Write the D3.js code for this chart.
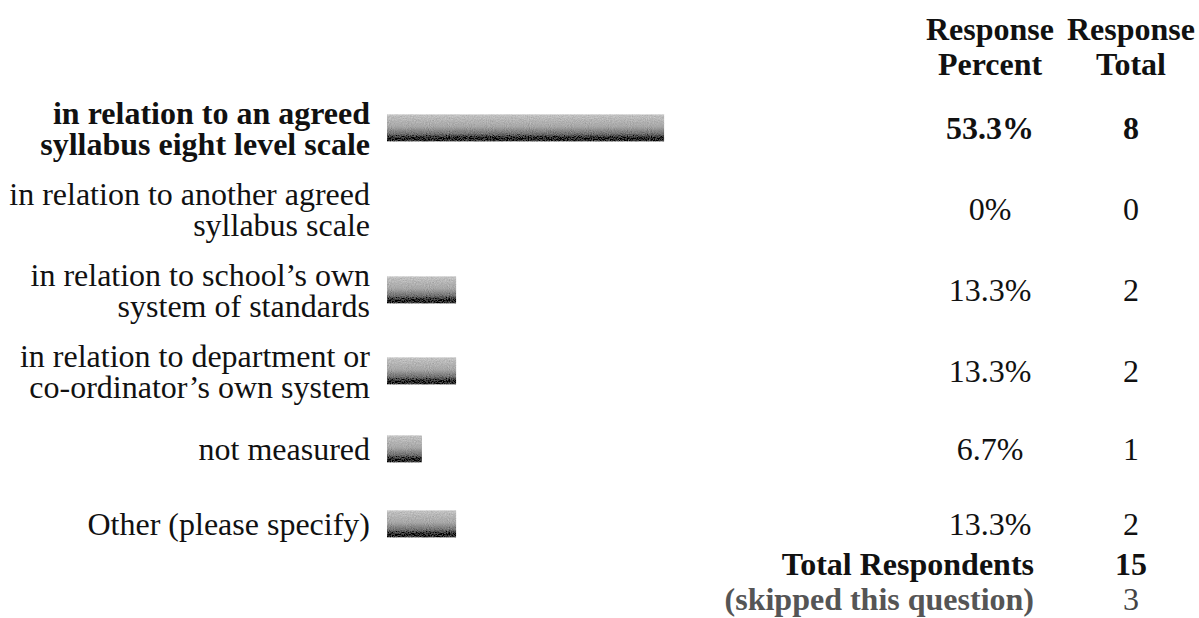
<!DOCTYPE html>
<html>
<head>
<meta charset="utf-8">
<script src="https://cdn.jsdelivr.net/npm/d3@7"></script>
<style>
  html, body { margin: 0; padding: 0; background: #fff; }
  svg { display: block; font-family: "Liberation Serif", "Times New Roman", serif; }
</style>
</head>
<body>
<svg id="chart" width="1199" height="618"></svg>
<script>
// Answer options (line breaks as shown in the label column)
const categories = [
  "in relation to an agreed\nsyllabus eight level scale",
  "in relation to another agreed\nsyllabus scale",
  "in relation to school\u2019s own\nsystem of standards",
  "in relation to department or\nco-ordinator\u2019s own system",
  "not measured",
  "Other (please specify)"
];
const responsePercent = [53.3, 0, 13.3, 13.3, 6.7, 13.3];
const responseTotal = [8, 0, 2, 2, 1, 2];
const highlighted = [true, false, false, false, false, false];
const headerPercent = ["Response", "Percent"];
const headerTotal = ["Response", "Total"];
const summaryLabels = ["Total Respondents", "(skipped this question)"];
const summaryValues = [15, 3];

const svg = d3.select("#chart");
const fontSize = 32;
const lineGap = 31;

const labelRight = 370;
const barLeft = 387;
const pctCenter = 990;
const totCenter = 1131;

// Row layout: each table row grows a little with its number of label lines
const rowData = categories.map((c, i) => ({
  lines: c.split("\n"), pct: responsePercent[i], total: responseTotal[i], bold: highlighted[i], i
}));
const rowHeight = d => 69 + 6 * d.lines.length;
let acc = 128 - rowHeight(rowData[0]) / 2;
rowData.forEach(d => { d.cy = acc + rowHeight(d) / 2; acc += rowHeight(d); });

// Scales
const x = d3.scaleLinear().domain([0, 100]).range([0, 520]);
const ySummary = d3.scalePoint().domain(d3.range(summaryLabels.length)).range([566, 601]);
const barH = 27;

// Bar shading: light grey top fading to near-black at the base, with grain
const defs = svg.append("defs");
const grad = defs.append("linearGradient")
  .attr("id", "barGrad").attr("x1", 0).attr("y1", 0).attr("x2", 0).attr("y2", 1);
[[0, "#c2c2c2"], [0.45, "#a6a6a6"], [0.72, "#6e6e6e"], [0.88, "#1e1e1e"], [1, "#3c3c3c"]]
  .forEach(([o, c]) => grad.append("stop").attr("offset", o).attr("stop-color", c));

const grain = defs.append("filter").attr("id", "grain")
  .attr("x", 0).attr("y", 0).attr("width", 1).attr("height", 1);
grain.append("feTurbulence").attr("type", "fractalNoise")
  .attr("baseFrequency", 0.95).attr("numOctaves", 1).attr("seed", 3).attr("result", "noise");
grain.append("feColorMatrix").attr("in", "noise").attr("type", "matrix")
  .attr("values", "0.33 0.33 0.33 0 0  0.33 0.33 0.33 0 0  0.33 0.33 0.33 0 0  0 0 0 0 1")
  .attr("result", "grey");
grain.append("feComposite").attr("in", "grey").attr("in2", "SourceGraphic")
  .attr("operator", "arithmetic").attr("k1", 0).attr("k2", 0.55).attr("k3", 1).attr("k4", -0.27)
  .attr("result", "mix");
grain.append("feComposite").attr("in", "mix").attr("in2", "SourceGraphic").attr("operator", "in");

// Column headers
const header = svg.append("g").attr("font-weight", "bold").attr("font-size", fontSize)
  .attr("text-anchor", "middle").attr("fill", "#111");
headerPercent.forEach((t, i) => header.append("text").attr("x", pctCenter).attr("y", 40 + i * 35).text(t));
headerTotal.forEach((t, i) => header.append("text").attr("x", totCenter).attr("y", 40 + i * 35).text(t));

// Rows
const rows = svg.selectAll("g.row")
  .data(rowData)
  .join("g").attr("class", "row")
  .attr("transform", d => `translate(0,${d.cy})`)
  .attr("font-size", fontSize)
  .attr("font-weight", d => d.bold ? "bold" : "normal")
  .attr("fill", "#111");

rows.append("text")
  .attr("x", labelRight).attr("text-anchor", "end")
  .selectAll("tspan")
  .data(d => d.lines.map((t, k) => ({ t, k, n: d.lines.length })))
  .join("tspan")
  .attr("x", labelRight)
  .attr("y", d => (d.k - (d.n - 1) / 2) * lineGap + 11)
  .text(d => d.t);

rows.filter(d => d.pct > 0).append("rect")
  .attr("x", barLeft)
  .attr("y", -barH / 2)
  .attr("width", d => x(d.pct))
  .attr("height", barH)
  .attr("fill", "url(#barGrad)")
  .attr("filter", "url(#grain)");

rows.append("text").attr("x", pctCenter).attr("y", 11).attr("text-anchor", "middle")
  .text(d => d3.format(".1~f")(d.pct) + "%");
rows.append("text").attr("x", totCenter).attr("y", 11).attr("text-anchor", "middle")
  .text(d => d.total);

// Summary lines
const summary = svg.selectAll("g.summary")
  .data(summaryLabels.map((l, i) => ({ l, v: summaryValues[i], i })))
  .join("g").attr("class", "summary")
  .attr("transform", d => `translate(0,${ySummary(d.i)})`)
  .attr("font-size", fontSize);
summary.append("text").attr("x", 1034).attr("y", 9).attr("text-anchor", "end")
  .attr("font-weight", "bold")
  .attr("fill", d => d.i === 0 ? "#111" : "#555")
  .text(d => d.l);
summary.append("text").attr("x", totCenter).attr("y", 9).attr("text-anchor", "middle")
  .attr("font-weight", d => d.i === 0 ? "bold" : "normal")
  .attr("fill", d => d.i === 0 ? "#111" : "#444")
  .text(d => d.v);
</script>
</body>
</html>
